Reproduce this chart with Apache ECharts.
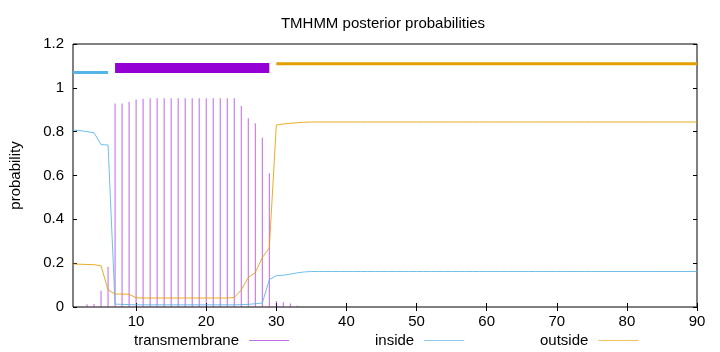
<!DOCTYPE html>
<html><head><meta charset="utf-8">
<script src="https://cdn.jsdelivr.net/npm/echarts@6/dist/echarts.min.js"></script>
<style>html,body{margin:0;padding:0;background:#fff}#c{width:720px;height:352px}</style>
</head><body><div id="c"></div>
<script>
const positions = [1,2,3,4,5,6,7,8,9,10,11,12,13,14,15,16,17,18,19,20,21,22,23,24,25,26,27,28,29,30,31,32,33,34,35,36,37,38,39,40,41,42,43,44,45,46,47,48,49,50,51,52,53,54,55,56,57,58,59,60,61,62,63,64,65,66,67,68,69,70,71,72,73,74,75,76,77,78,79,80,81,82,83,84,85,86,87,88,89,90];
const transmembrane = [0,0.001,0.013,0.014,0.074,0.184,0.929,0.929,0.935,0.947,0.95,0.952,0.952,0.952,0.952,0.952,0.952,0.952,0.952,0.952,0.952,0.952,0.952,0.952,0.917,0.861,0.838,0.772,0.61,0.027,0.022,0.016,0.006,0,0,0,0,0,0,0,0,0,0,0,0,0,0,0,0,0,0,0,0,0,0,0,0,0,0,0,0,0,0,0,0,0,0,0,0,0,0,0,0,0,0,0,0,0,0,0,0,0,0,0,0,0,0,0,0,0];
const inside = [0.807,0.805,0.80,0.795,0.741,0.739,0.013,0.012,0.011,0.01,0.01,0.01,0.01,0.01,0.01,0.01,0.01,0.01,0.01,0.01,0.01,0.01,0.01,0.01,0.011,0.012,0.015,0.018,0.125,0.143,0.145,0.15,0.156,0.16,0.162,0.162,0.162,0.162,0.162,0.162,0.162,0.162,0.162,0.162,0.162,0.162,0.162,0.162,0.162,0.162,0.162,0.162,0.162,0.162,0.162,0.162,0.162,0.162,0.162,0.162,0.162,0.162,0.162,0.162,0.162,0.162,0.162,0.162,0.162,0.162,0.162,0.162,0.162,0.162,0.162,0.162,0.162,0.162,0.162,0.162,0.162,0.162,0.162,0.162,0.162,0.162,0.162,0.162,0.162,0.162];
const outside = [0.196,0.195,0.194,0.193,0.188,0.078,0.059,0.059,0.058,0.042,0.041,0.041,0.041,0.041,0.041,0.041,0.041,0.041,0.041,0.041,0.041,0.041,0.041,0.043,0.078,0.135,0.157,0.225,0.27,0.83,0.835,0.838,0.841,0.843,0.844,0.844,0.844,0.844,0.844,0.844,0.844,0.844,0.844,0.844,0.844,0.844,0.844,0.844,0.844,0.844,0.844,0.844,0.844,0.844,0.844,0.844,0.844,0.844,0.844,0.844,0.844,0.844,0.844,0.844,0.844,0.844,0.844,0.844,0.844,0.844,0.844,0.844,0.844,0.844,0.844,0.844,0.844,0.844,0.844,0.844,0.844,0.844,0.844,0.844,0.844,0.844,0.844,0.844,0.844,0.844];
// predicted topology segments [start, end] and their drawing level
const insideSeg = [1, 6];
const tmSeg = [7, 29];
const outsideSeg = [30, 90];
const segLevels = {inside: 1.07, tm: 1.09, outside: 1.11};
const xTicks = [10,20,30,40,50,60,70,80,90];

const PURPLE = '#9400d3', BLUE = '#56b4e9', ORANGE = '#e69f00';
const FONT = 'Liberation Sans';
const FS = 15;
const pairs = arr => positions.map((p,i)=>[p, arr[i]]);

const chart = echarts.init(document.getElementById('c'), null, {renderer:'canvas'});
const tickStyle = {show:true, inside:true, length:4, lineStyle:{color:'#000', width:1}};
const legendText = {fontFamily:FONT, fontSize:FS, color:'#000', padding:[0,5,0,0]};
const legendItem = (name, col) => ({name, icon:'rect', itemStyle:{color:col, opacity:1}, lineStyle:{color:col, opacity:1}});
chart.setOption({
  animation:false,
  backgroundColor:'#fff',
  title:{text:'TMHMM posterior probabilities', left:378, top:11, textAlign:'center',
    textStyle:{fontFamily:FONT, fontSize:FS, fontWeight:'normal', color:'#000'}},
  grid:{left:73, right:23, top:44, bottom:45, show:true, borderColor:'#000', borderWidth:1, backgroundColor:'transparent'},
  legend:[
    {data:[legendItem('transmembrane', '#bd6fe6')], left:134, top:333, padding:0, align:'right', itemWidth:40, itemHeight:1, textStyle:legendText},
    {data:[legendItem('inside', '#8ccdf0')], left:375, top:333, padding:0, align:'right', itemWidth:40, itemHeight:1, textStyle:legendText},
    {data:[legendItem('outside', '#efc25e')], left:540, top:333, padding:0, align:'right', itemWidth:40, itemHeight:1, textStyle:legendText}
  ],
  xAxis:[
    {type:'value', min:1, max:90, position:'bottom',
     axisLine:{show:false}, splitLine:{show:false},
     axisTick:Object.assign({customValues:xTicks}, tickStyle),
     axisLabel:{customValues:xTicks, fontFamily:FONT, fontSize:FS, color:'#000', margin:7}},
    {type:'value', min:1, max:90, position:'top',
     axisLine:{show:false}, splitLine:{show:false},
     axisTick:Object.assign({customValues:xTicks}, tickStyle),
     axisLabel:{show:false, customValues:xTicks}}
  ],
  yAxis:[
    {type:'value', min:0, max:1.2, interval:0.2, position:'left',
     name:'probability', nameLocation:'middle', nameGap:50, nameRotate:90,
     nameTextStyle:{fontFamily:FONT, fontSize:FS, color:'#000'},
     axisLine:{show:false}, splitLine:{show:false}, axisTick:tickStyle,
     axisLabel:{fontFamily:FONT, fontSize:FS, color:'#000', margin:9,
       formatter:v=>String(Math.round(v*10)/10)}},
    {type:'value', min:0, max:1.2, interval:0.2, position:'right',
     axisLine:{show:false}, splitLine:{show:false}, axisTick:tickStyle, axisLabel:{show:false}}
  ],
  series:[
    {name:'transmembrane', type:'bar', xAxisIndex:0, yAxisIndex:0, barWidth:1,
     itemStyle:{color:PURPLE, opacity:0.6}, data:pairs(transmembrane), z:2},
    {name:'inside', type:'line', showSymbol:false, symbol:'none',
     lineStyle:{color:BLUE, width:1, opacity:0.85}, itemStyle:{color:BLUE}, data:pairs(inside), z:3},
    {name:'outside', type:'line', showSymbol:false, symbol:'none',
     lineStyle:{color:ORANGE, width:1, opacity:0.85}, itemStyle:{color:ORANGE}, data:pairs(outside), z:3},
    {name:'seg-inside', type:'line', showSymbol:false, symbol:'none',
     lineStyle:{color:BLUE, width:3, cap:'butt'}, data:insideSeg.map(p=>[p, segLevels.inside]), z:4},
    {name:'seg-tm', type:'line', showSymbol:false, symbol:'none',
     lineStyle:{color:PURPLE, width:10, cap:'butt'}, data:tmSeg.map(p=>[p, segLevels.tm]), z:4},
    {name:'seg-outside', type:'line', showSymbol:false, symbol:'none',
     lineStyle:{color:ORANGE, width:3, cap:'butt'}, data:outsideSeg.map(p=>[p, segLevels.outside]), z:4}
  ]
});
</script></body></html>
